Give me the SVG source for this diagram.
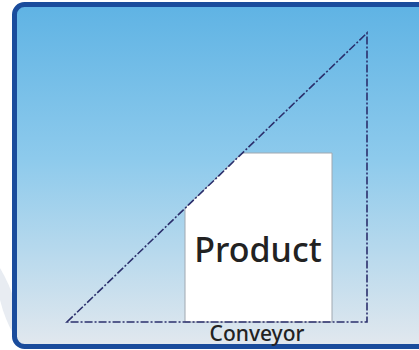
<svg xmlns="http://www.w3.org/2000/svg" width="419" height="350" viewBox="0 0 419 350">
<defs>
<linearGradient id="bg" x1="0" y1="0" x2="0" y2="1">
<stop offset="0" stop-color="#5fb3e4"/>
<stop offset="0.45" stop-color="#8dcaec"/>
<stop offset="1" stop-color="#e2e8ee"/>
</linearGradient>
<style>
.dash{fill:none;stroke:#2b2f6c;stroke-width:1.6;stroke-dasharray:8 2 2 2}
.lbl{font-family:"Noto Sans","Open Sans",sans-serif;font-weight:500;fill:#222;text-anchor:middle}
</style>
</defs>
<rect width="419" height="350" fill="#ffffff"/>
<path d="M0 268 Q10 285 14 300 L14 335 Q5 320 0 300 Z" fill="#e8ecf2"/>
<g id="frame">
<rect x="14.5" y="4.5" width="420" height="342" rx="10" fill="url(#bg)" stroke="#1a4c9c" stroke-width="5"/>
</g>
<g id="product">
<path d="M185 208 L242 153 L332 153 L332 322 L185 322 Z" fill="#ffffff" stroke="#a0a8b0" stroke-width="1"/>
<text class="lbl" x="258" y="262" font-size="34">Product</text>
</g>
<g id="connectors">
<path class="dash" d="M67 322 L367 33 L367 322 Z"/>
</g>
<g id="conveyor">
<text class="lbl" x="257" y="341" font-size="21">Conveyor</text>
</g>
</svg>
